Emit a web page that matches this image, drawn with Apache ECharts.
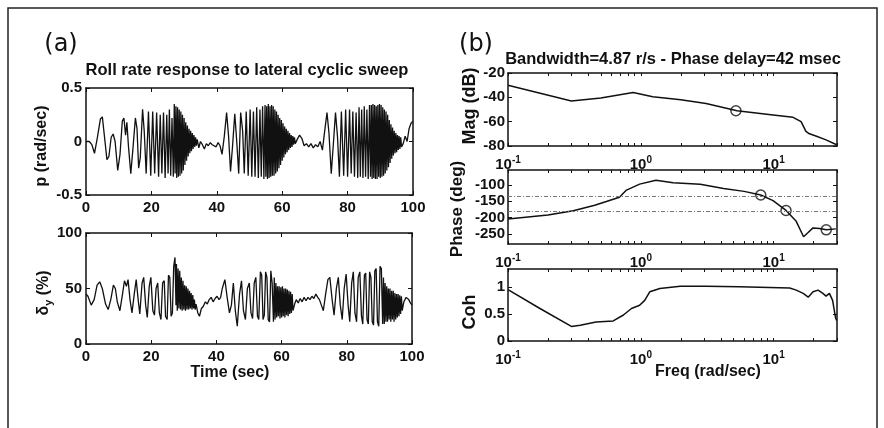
<!DOCTYPE html>
<html><head><meta charset="utf-8">
<script src="https://cdn.jsdelivr.net/npm/echarts@6/dist/echarts.min.js"></script>
<style>html,body{margin:0;padding:0;background:#fff}#c{width:884px;height:428px}</style>
</head><body><div id="c"></div>
<script>
// ---------- data ----------
const timeTicks = [0, 20, 40, 60, 80, 100];

const pTime = [0,1.0,1.8,2.6,3.5,4.4,5.0,5.6,6.4,7.0,7.7,8.3,8.9,9.7,10.4,11.1,11.6,12.1,12.5,13.0,13.7,14.4,15.1,15.6,16.1,16.6,17.3,17.8,18.4,19.1,19.8,20.4,21.0,21.6,22.2,22.7,23.2,23.7,24.2,24.7,25.1,25.5,25.9,26.3,26.7,
27.0,27.25,27.5,27.75,28.0,28.25,28.5,28.75,29.0,29.25,29.5,29.75,30.0,30.25,30.5,30.75,31.0,31.25,31.5,31.75,32.0,32.25,32.5,32.75,33.0,33.25,33.5,33.75,34.0,
34.5,35.0,35.6,36.2,36.8,37.4,38.0,38.6,39.2,39.8,40.4,41.0,
41.6,42.3,43.0,43.6,44.2,44.8,45.5,46.1,46.7,47.3,47.9,48.4,49.0,49.6,50.2,50.7,51.2,51.7,52.2,52.7,53.2,53.6,54.0,54.4,
54.75,55.0,55.25,55.5,55.75,56.0,56.25,56.5,56.75,57.0,57.25,57.5,57.75,58.0,58.25,58.5,58.75,59.0,59.25,59.5,59.75,60.0,60.25,60.5,60.75,61.0,61.25,61.5,61.75,62.0,62.25,62.5,62.75,63.0,63.25,63.5,63.75,64.0,
64.6,65.3,66.0,66.7,67.4,68.1,68.8,69.5,70.2,70.9,71.6,
72.3,73.0,73.7,74.3,75.0,75.7,76.3,76.9,77.5,78.1,78.8,79.4,80.0,80.6,81.1,81.6,82.1,82.6,83.1,83.5,83.9,84.3,84.7,85.1,85.5,85.9,86.3,86.7,
87.0,87.25,87.5,87.75,88.0,88.25,88.5,88.75,89.0,89.25,89.5,89.75,90.0,90.25,90.5,90.75,91.0,91.25,91.5,91.75,92.0,92.25,92.5,92.75,93.0,93.25,93.5,93.75,94.0,94.25,94.5,94.75,95.0,95.25,95.5,95.75,96.0,96.25,96.5,
97.0,97.6,98.2,98.8,99.4,100];
const pValue = [0,0.0,-0.03,-0.11,0.04,0.21,0.23,0.06,-0.17,-0.14,0.04,0.07,0.0,-0.27,-0.12,0.19,0.22,0.06,0.18,-0.05,-0.30,-0.05,0.22,0.12,-0.25,-0.15,0.30,0.10,-0.30,0.28,-0.32,0.28,-0.30,0.27,-0.33,0.25,-0.30,0.27,-0.34,0.25,-0.30,0.30,-0.32,0.22,-0.33,
0.35,-0.30,0.33,-0.34,0.32,-0.33,0.30,-0.32,0.28,-0.30,0.25,-0.27,0.22,-0.22,0.18,-0.18,0.15,-0.14,0.12,-0.11,0.10,-0.09,0.08,-0.07,0.06,-0.05,0.04,-0.04,0.02,
-0.06,0.0,-0.03,-0.07,-0.02,-0.04,-0.01,-0.03,-0.02,-0.05,-0.01,-0.04,
-0.12,0.05,0.27,0.05,-0.28,-0.05,0.26,0.0,-0.30,0.27,0.10,-0.30,0.28,-0.32,0.30,-0.33,0.28,-0.33,0.32,-0.34,0.30,-0.33,0.33,-0.35,
0.34,-0.33,0.33,-0.35,0.35,-0.34,0.33,-0.33,0.34,-0.32,0.33,-0.32,0.30,-0.30,0.28,-0.28,0.25,-0.25,0.22,-0.22,0.20,-0.18,0.17,-0.15,0.14,-0.12,0.12,-0.10,0.10,-0.08,0.08,-0.06,0.06,-0.05,0.05,-0.03,0.04,-0.02,
0.02,0.06,0.03,-0.04,-0.02,-0.05,-0.02,-0.06,-0.03,-0.05,0.0,
-0.08,0.10,0.27,0.08,-0.30,0.0,0.27,0.05,-0.33,0.28,-0.32,0.30,-0.33,0.30,-0.30,0.28,-0.33,0.27,-0.34,0.32,-0.33,0.30,-0.34,0.33,-0.33,0.30,-0.35,0.34,
-0.33,0.34,-0.35,0.35,-0.34,0.34,-0.35,0.33,-0.35,0.34,-0.33,0.35,-0.34,0.34,-0.33,0.32,-0.32,0.30,-0.30,0.28,-0.27,0.25,-0.24,0.20,-0.20,0.16,-0.16,0.13,-0.13,0.10,-0.11,0.08,-0.10,0.06,-0.08,0.05,-0.07,0.04,-0.05,
-0.02,0.05,0.0,0.12,0.17,0.19];

const dTime = [0,0.6,1.6,2.5,3.4,4.2,5.0,6.0,6.8,7.6,8.4,9.0,9.6,10.4,11.2,11.8,12.4,12.9,13.5,14.1,14.8,15.4,16.0,16.5,17.2,17.7,18.3,18.8,19.4,19.9,20.5,21.0,21.5,22.0,22.5,23.0,23.5,24.0,24.4,24.9,25.3,25.7,26.1,26.5,26.9,27.3,27.6,
27.75,28.0,28.25,28.5,28.75,29.0,29.25,29.5,29.75,30.0,30.25,30.5,30.75,31.0,31.25,31.5,31.75,32.0,32.25,32.5,32.75,33.0,33.25,33.5,33.75,
34.3,34.8,35.4,36.0,36.6,37.2,37.8,38.4,39.0,39.6,40.2,40.8,41.3,
41.8,42.6,43.3,44.0,44.6,45.2,45.8,46.4,47.1,47.7,48.3,48.9,49.5,50.1,50.6,51.1,51.6,52.1,52.6,53.0,53.5,53.9,54.3,54.7,55.1,55.5,55.9,56.3,56.7,57.1,57.5,
57.75,58.0,58.25,58.5,58.75,59.0,59.25,59.5,59.75,60.0,60.25,60.5,60.75,61.0,61.25,61.5,61.75,62.0,62.25,62.5,62.75,63.0,63.25,63.5,
64.0,64.5,65.1,65.7,66.3,66.9,67.5,68.1,68.7,69.3,69.9,70.5,71.1,71.6,
72.2,72.8,73.5,74.2,74.8,75.5,76.1,76.8,77.4,78.0,78.6,79.2,79.8,80.4,80.9,81.5,82.0,82.5,83.0,83.5,84.0,84.5,84.9,85.4,85.8,86.2,86.6,87.0,87.4,87.8,88.2,88.6,89.0,89.4,89.8,90.2,90.6,91.0,
91.25,91.5,91.75,92.0,92.25,92.5,92.75,93.0,93.25,93.5,93.75,94.0,94.25,94.5,94.75,95.0,95.25,95.5,95.75,96.0,96.25,96.5,96.75,97.0,
97.5,98.2,99.0,99.5,100];
const dValue = [45,43,35,40,53,56,50,36,31,40,53,50,38,30,45,57,52,58,40,28,45,58,40,27,55,60,35,24,52,60,30,26,50,55,28,22,55,57,25,22,62,60,25,28,70,78,35,
72,30,68,32,66,31,60,30,57,31,53,30,52,31,50,31,48,32,46,31,44,32,40,31,36,
28,25,32,34,38,36,40,42,38,41,43,40,42,
50,58,42,28,35,55,30,16,45,57,30,22,50,55,28,23,55,60,25,22,65,62,22,26,65,60,22,20,66,55,20,
60,22,55,24,52,25,52,23,51,24,52,25,50,24,50,26,49,25,48,27,47,28,45,30,
36,40,37,41,38,42,39,42,40,43,41,45,42,40,
35,30,45,58,60,40,26,50,60,35,22,50,63,35,20,55,65,28,20,60,65,25,18,62,64,22,18,65,60,20,17,66,68,20,16,70,68,18,
60,18,55,20,52,20,50,22,50,20,48,22,48,20,46,22,45,24,45,25,44,27,43,30,
38,42,40,37,35];

const magFreq = [0.1,0.30,0.50,0.875,1.23,2.0,3.1,5.3,9.9,14.0,16.1,17.5,18.6,20.8,24.8,29.8];
const magDb   = [-30,-43,-40.5,-36,-39.5,-42,-45,-51,-54.5,-56.4,-60,-68,-70,-71.8,-75,-79];
const magMarkFreq = [5.2];
const magMarkDb = [-51];

const phaseFreq = [0.1,0.2,0.31,0.45,0.55,0.69,0.78,0.98,1.3,1.75,2.8,4.2,6.0,8.0,9.9,12.4,14.8,16.8,18.1,19.8,22.2,24.9,29.4];
const phaseDeg  = [-204,-192,-179,-162,-151,-138,-116,-98,-86,-94,-98,-111,-120,-131,-148,-178,-211,-258,-246,-231,-233,-237,-234];
const phaseMarkFreq = [8.0, 12.4, 24.9];
const phaseMarkDeg = [-131, -178, -237];
const phaseRefDeg = [-135, -180];
const phaseTicks = [-250, -200, -150, -100];

const cohFreq = [0.1,0.174,0.30,0.35,0.46,0.62,0.74,0.85,0.98,1.07,1.17,1.39,1.98,3.1,5.5,13.2,14.8,16.7,18.2,19.8,21.6,23.5,24.8,26.3,27.8,29.2,29.8];
const cohVal  = [0.95,0.6,0.27,0.29,0.35,0.37,0.48,0.6,0.66,0.75,0.91,0.97,1.01,1.01,1.0,0.98,0.94,0.88,0.81,0.91,0.94,0.88,0.83,0.88,0.75,0.44,0.38];
const cohTicks = [0, 0.5, 1];

const logTicks = [0.1, 1, 10];
const logAllTicks = [0.1,0.2,0.3,0.4,0.5,0.6,0.7,0.8,0.9,1,2,3,4,5,6,7,8,9,10,20,30];

// ---------- chart ----------
const FONT = 'Liberation Sans';
const INK = '#111';
const zip = (a, b) => a.map((v, i) => [v, b[i]]);

const grids = [
  {left: 86, top: 88, width: 327, height: 107},
  {left: 86, top: 233, width: 326, height: 111},
  {left: 508, top: 73, width: 329, height: 73},
  {left: 508, top: 170, width: 329, height: 74},
  {left: 508, top: 269, width: 329, height: 72}
];

const tickLabel = {color: INK, fontFamily: FONT, fontSize: 15, fontWeight: 'bold'};
const axisLineSt = {show: true, onZero: false, lineStyle: {color: INK, width: 1.5}};
const tickSt = {show: true, inside: true, length: 4, lineStyle: {color: INK, width: 1}};

const xAxis = [], yAxis = [];
function addX(gi, base, labelOpt, tickValues) {
  const tick = Object.assign({}, tickSt, tickValues ? {customValues: tickValues, length: 3} : {});
  xAxis.push(Object.assign({gridIndex: gi, position: 'bottom', axisLine: axisLineSt, axisTick: tick,
    splitLine: {show: false}, axisLabel: labelOpt}, base));
  xAxis.push(Object.assign({gridIndex: gi, position: 'top', axisLine: axisLineSt, axisTick: tick,
    splitLine: {show: false}, axisLabel: {show: false}}, base));
}
function addY(gi, base, labelOpt, tickValues) {
  const tick = Object.assign({}, tickSt, tickValues ? {customValues: tickValues} : {});
  yAxis.push(Object.assign({gridIndex: gi, position: 'left', axisLine: axisLineSt, axisTick: tick,
    splitLine: {show: false}, axisLabel: labelOpt}, base));
  yAxis.push(Object.assign({gridIndex: gi, position: 'right', axisLine: axisLineSt, axisTick: tick,
    splitLine: {show: false}, axisLabel: {show: false}}, base));
}

const timeBase = {type: 'value', min: 0, max: 100, interval: 20};
const timeLabel = Object.assign({margin: 5, showMinLabel: true, showMaxLabel: true}, tickLabel);
const logBase = {type: 'log', logBase: 10, min: 0.1, max: 30};
const logLabel = Object.assign({}, tickLabel, {
  margin: 9, customValues: logTicks, showMinLabel: true, showMaxLabel: true,
  formatter: v => '{n|10}{s|' + Math.round(Math.log10(v)) + '}',
  rich: {
    n: {fontFamily: FONT, fontSize: 15, lineHeight: 20, color: INK},
    s: {fontFamily: FONT, fontSize: 10, lineHeight: 10, verticalAlign: 'top', color: INK}
  }
});
const yLabel = Object.assign({margin: 4, showMinLabel: true, showMaxLabel: true}, tickLabel);
const yLabelB = Object.assign({}, yLabel, {margin: 3});

addX(0, timeBase, timeLabel);
addX(1, timeBase, timeLabel);
addX(2, logBase, logLabel, logAllTicks);
addX(3, logBase, logLabel, logAllTicks);
addX(4, logBase, logLabel, logAllTicks);

addY(0, {type: 'value', min: -0.5, max: 0.5, interval: 0.5}, yLabel);
addY(1, {type: 'value', min: 0, max: 100, interval: 50}, yLabel);
addY(2, {type: 'value', min: -80, max: -20, interval: 20}, yLabelB);
addY(3, {type: 'value', min: -280, max: -55}, Object.assign({}, yLabelB, {customValues: phaseTicks}), phaseTicks);
addY(4, {type: 'value', min: 0, max: 1.33}, Object.assign({}, yLabelB, {customValues: cohTicks}), cohTicks);

const lineSeries = (gi, data, w) => ({
  type: 'line', xAxisIndex: gi * 2, yAxisIndex: gi * 2, data: data, showSymbol: false, symbol: 'none',
  lineStyle: {color: INK, width: w}, silent: true, animation: false
});
const markSeries = (gi, data) => ({
  type: 'scatter', xAxisIndex: gi * 2, yAxisIndex: gi * 2, data: data, symbol: 'circle', symbolSize: 10,
  itemStyle: {color: 'rgba(0,0,0,0)', borderColor: INK, borderWidth: 1.5}, silent: true, animation: false
});

const phaseLine = lineSeries(3, zip(phaseFreq, phaseDeg), 1.5);
phaseLine.markLine = {
  silent: true, symbol: 'none', animation: false, label: {show: false},
  lineStyle: {color: '#777', width: 1, type: [4, 2, 1, 2]},
  data: phaseRefDeg.map(v => ({yAxis: v}))
};

const txt = (x, y, text, size, weight, rot, extra) => ({
  type: 'text', x: x, y: y, rotation: rot || 0, silent: true,
  style: Object.assign({text: text, fontFamily: FONT, fontSize: size, fontWeight: weight || 'normal',
    fill: INK, align: 'center', verticalAlign: 'middle'}, extra || {})
});

const option = {
  backgroundColor: '#fff',
  animation: false,
  grid: grids.map(g => Object.assign({outerBoundsMode: 'none', containLabel: false}, g)),
  xAxis: xAxis,
  yAxis: yAxis,
  series: [
    lineSeries(0, zip(pTime, pValue), 1.3),
    lineSeries(1, zip(dTime, dValue), 1.3),
    lineSeries(2, zip(magFreq, magDb), 1.5),
    markSeries(2, zip(magMarkFreq, magMarkDb)),
    phaseLine,
    markSeries(3, zip(phaseMarkFreq, phaseMarkDeg)),
    lineSeries(4, zip(cohFreq, cohVal), 1.5)
  ],
  graphic: [
    {type: 'rect', silent: true, shape: {x: 8, y: 8, width: 869, height: 440},
      style: {fill: 'none', stroke: '#222', lineWidth: 1.5}},
    txt(61, 45, '(a)', 24, 'normal', 0, {fontFamily: 'DejaVu Sans'}),
    txt(476, 45, '(b)', 24, 'normal', 0, {fontFamily: 'DejaVu Sans'}),
    txt(247, 70, 'Roll rate response to lateral cyclic sweep', 16.5, 'bold'),
    txt(673, 59, 'Bandwidth=4.87 r/s - Phase delay=42 msec', 16.5, 'bold'),
    txt(42, 146, 'p (rad/sec)', 16, 'bold', Math.PI / 2),
    txt(44, 293, '{a|δ}{b|y}{a| (%)}', 16, 'bold', Math.PI / 2, {
      rich: {
        a: {fontFamily: FONT, fontSize: 16, fontWeight: 'bold', lineHeight: 20, fill: INK},
        b: {fontFamily: FONT, fontSize: 11, fontWeight: 'bold', lineHeight: 10, verticalAlign: 'bottom', fill: INK}
      }
    }),
    txt(230, 373, 'Time (sec)', 16, 'bold'),
    txt(470, 106, 'Mag (dB)', 18, 'bold', Math.PI / 2),
    txt(457, 209, 'Phase (deg)', 17, 'bold', Math.PI / 2),
    txt(470, 312, 'Coh', 18, 'bold', Math.PI / 2),
    txt(708, 372, 'Freq (rad/sec)', 16, 'bold')
  ]
};

const chart = echarts.init(document.getElementById('c'), null, {renderer: 'canvas'});
chart.setOption(option);
</script>
</body></html>
